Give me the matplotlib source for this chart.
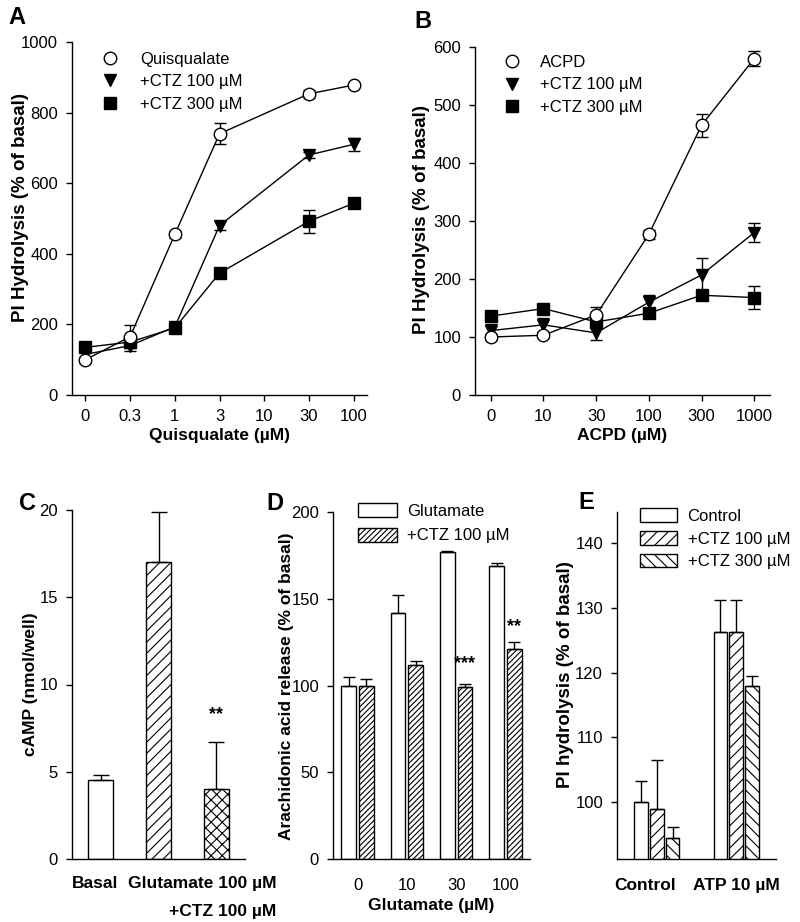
import matplotlib
matplotlib.use("Agg")
import matplotlib.pyplot as plt
import matplotlib.transforms as mtransforms
from matplotlib.lines import Line2D
import numpy as np

plt.rcParams['font.family'] = ['Liberation Sans', 'DejaVu Sans']
plt.rcParams['hatch.linewidth'] = 0.8
plt.rcParams['axes.linewidth'] = 1.0

# ---------------- Panel A data ----------------
a_labels = ["0", "0.3", "1", "3", "10", "30", "100"]
a_pos = [0, 1, 2, 3, 5, 6]          # categories that have data (10 µM has none)
a_quis = [100, 165, 455, 740, 853, 878]
a_quis_err = [8, 33, 10, 30, 12, 5]
a_ctz100 = [115, 140, 193, 480, 680, 710]
a_ctz100_err = [10, 15, 8, 12, 8, 18]
a_ctz300 = [135, 150, 190, 345, 492, 543]
a_ctz300_err = [8, 12, 8, 8, 33, 8]

# ---------------- Panel B data ----------------
b_labels = ["0", "10", "30", "100", "300", "1000"]
b_acpd = [100, 103, 138, 277, 465, 580]
b_acpd_err = [5, 5, 13, 8, 20, 13]
b_ctz100 = [111, 121, 107, 160, 207, 280]
b_ctz100_err = [12, 12, 12, 13, 30, 16]
b_ctz300 = [136, 149, 126, 141, 172, 168]
b_ctz300_err = [5, 6, 5, 6, 5, 20]

# ---------------- Panel C data ----------------
c_vals = [4.5, 17.0, 4.0]
c_errs = [0.33, 2.9, 2.7]

# ---------------- Panel D data ----------------
d_labels = ["0", "10", "30", "100"]
d_glu = [100, 142, 177, 169]
d_glu_err = [5, 10, 0.5, 1.5]
d_ctz = [100, 112, 99, 121]
d_ctz_err = [3.5, 2.3, 2, 4]

# ---------------- Panel E data ----------------
e_groups = ["Control", "ATP 10 \u00b5M"]
e_ctrl = [100, 126.2]
e_ctrl_err = [3.3, 5.0]
e_ctz100 = [98.9, 126.2]
e_ctz100_err = [7.6, 5.0]
e_ctz300 = [94.5, 117.9]
e_ctz300_err = [1.6, 1.6]

W, H = 800, 922
fig = plt.figure(figsize=(W / 100, H / 100), dpi=100)


def add_ax(l, r, t, b):
    return fig.add_axes([l / W, 1 - b / H, (r - l) / W, (b - t) / H])


def style(ax, xticks=True):
    ax.spines['top'].set_visible(False)
    ax.spines['right'].set_visible(False)
    ax.tick_params(direction='out', length=4, width=1, labelsize=12, pad=6)
    if not xticks:
        ax.tick_params(axis='x', length=0)


def ylab(x, y, s, size=13.5):
    fig.text(x / W, 1 - y / H, s, rotation=90, ha='center', va='center',
             fontsize=size, fontweight='bold')


def letter(x, y, s):
    fig.text(x / W, 1 - y / H, s, fontsize=17, fontweight='bold', va='center', ha='left')


MU = "\u00b5"
lab_kw = dict(fontsize=12.5, fontweight='bold')
MS = 9

# ---------------- Panel A ----------------
axA = add_ax(72, 367, 42, 395)
style(axA)
common = dict(color='black', lw=1.0, capsize=4, elinewidth=1, ms=MS, capthick=1)
axA.errorbar(a_pos, a_ctz300, yerr=a_ctz300_err, fmt='-s', mfc='black', mec='black', **common)
axA.errorbar(a_pos, a_ctz100, yerr=a_ctz100_err, fmt='-v', mfc='black', mec='black', **common)
axA.errorbar(a_pos, a_quis, yerr=a_quis_err, fmt='-o', mfc='white', mec='black', **common)
axA.set_xlim(-0.3, 6.3)
axA.set_ylim(0, 1000)
axA.set_xticks(range(len(a_labels)))
axA.set_xticklabels(a_labels)
axA.set_yticks([0, 200, 400, 600, 800, 1000])
axA.set_xlabel(f"Quisqualate ({MU}M)", labelpad=3, **lab_kw)
ylab(21, 207, "PI Hydrolysis (% of basal)")


def marker_handles(first):
    return ([Line2D([], [], marker='o', ls='none', mfc='white', mec='black', ms=MS),
             Line2D([], [], marker='v', ls='none', mfc='black', mec='black', ms=MS),
             Line2D([], [], marker='s', ls='none', mfc='black', mec='black', ms=MS)],
            [first, f'+CTZ 100 {MU}M', f'+CTZ 300 {MU}M'])


hA, lA = marker_handles('Quisqualate')
axA.legend(hA, lA, loc='upper left', bbox_to_anchor=(0.102, 0.973), frameon=False,
           fontsize=12, handlelength=1.0, handletextpad=1.27, labelspacing=0.45,
           borderpad=0, borderaxespad=0)
letter(8, 18, "A")

# ---------------- Panel B ----------------
axB = add_ax(475, 770, 47, 395)
style(axB)
xb = np.arange(len(b_labels))
axB.errorbar(xb, b_ctz300, yerr=b_ctz300_err, fmt='-s', mfc='black', mec='black', **common)
axB.errorbar(xb, b_ctz100, yerr=b_ctz100_err, fmt='-v', mfc='black', mec='black', **common)
axB.errorbar(xb, b_acpd, yerr=b_acpd_err, fmt='-o', mfc='white', mec='black', **common)
axB.set_xlim(-0.3, 5.3)
axB.set_ylim(0, 600)
axB.set_xticks(xb)
axB.set_xticklabels(b_labels)
axB.set_yticks([0, 100, 200, 300, 400, 500, 600])
axB.set_xlabel(f"ACPD ({MU}M)", labelpad=3, **lab_kw)
ylab(421, 219, "PI Hydrolysis (% of basal)")
hB, lB = marker_handles('ACPD')
axB.legend(hB, lB, loc='upper left', bbox_to_anchor=(0.098, 0.978), frameon=False,
           fontsize=12, handlelength=1.0, handletextpad=1.15, labelspacing=0.47,
           borderpad=0, borderaxespad=0)
letter(414, 22, "B")

# ---------------- Panel C ----------------
axC = add_ax(72, 245, 510, 859)
style(axC, xticks=False)
xc = np.arange(3)
hatches = ['', '///', 'xxx']
for i in range(3):
    axC.bar(xc[i], c_vals[i], width=0.43, color='white', edgecolor='black', lw=1.0, hatch=hatches[i],
            yerr=[[0], [c_errs[i]]], error_kw=dict(ecolor='black', elinewidth=1, capsize=6, capthick=1))
axC.set_xlim(-0.5, 2.5)
axC.set_ylim(0, 20)
axC.set_yticks([0, 5, 10, 15, 20])
axC.set_xticks([])
axC.text(2, c_vals[2] + c_errs[2] + 1.1, "**", ha='center', va='bottom', fontsize=13, fontweight='bold')
trC = mtransforms.blended_transform_factory(axC.transData, fig.transFigure)
axC.text(-0.1, 1 - 883 / H, "Basal", transform=trC, ha='center', va='center', **lab_kw)
axC.text(3.05, 1 - 883 / H, f"Glutamate 100 {MU}M", transform=trC, ha='right', va='center', **lab_kw)
axC.text(3.05, 1 - 911 / H, f"+CTZ 100 {MU}M", transform=trC, ha='right', va='center', **lab_kw)
ylab(31, 684, "cAMP (nmol/well)", size=12.5)
letter(19, 503, "C")

# ---------------- Panel D ----------------
axD = add_ax(333, 530, 512, 859)
style(axD, xticks=False)
xd = np.arange(len(d_labels))
bw = 0.3
ekw = dict(ecolor='black', elinewidth=1, capsize=4, capthick=1)
axD.bar(xd - 0.18, d_glu, width=bw, color='white', edgecolor='black', lw=1.0,
        yerr=[np.zeros(4), d_glu_err], error_kw=ekw, label='Glutamate')
axD.bar(xd + 0.18, d_ctz, width=bw, color='white', edgecolor='black', lw=1.0, hatch='//////',
        yerr=[np.zeros(4), d_ctz_err], error_kw=ekw, label=f'+CTZ 100 {MU}M')
axD.set_xlim(-0.5, 3.5)
axD.set_ylim(0, 200)
axD.set_yticks([0, 50, 100, 150, 200])
axD.set_xticks(xd)
axD.set_xticklabels(d_labels)
axD.tick_params(axis='x', pad=14)
axD.text(2 + 0.18, d_ctz[2] + d_ctz_err[2] + 7, "***", ha='center', va='bottom', fontsize=13, fontweight='bold')
axD.text(3 + 0.18, d_ctz[3] + d_ctz_err[3] + 4, "**", ha='center', va='bottom', fontsize=13, fontweight='bold')
axD.set_xlabel(f"Glutamate ({MU}M)", labelpad=3, **lab_kw)
ylab(286, 686, "Arachidonic acid release (% of basal)", size=12.5)
axD.legend(loc='upper left', bbox_to_anchor=(0.127, 1.026), frameon=False, fontsize=12,
           handlelength=2.35, handleheight=0.9, handletextpad=0.6, labelspacing=0.55,
           borderpad=0, borderaxespad=0)
letter(266, 503, "D")

# ---------------- Panel E ----------------
axE = add_ax(617, 776, 512, 859)
style(axE, xticks=False)
xe = np.arange(2)
step = 0.2
bwe = 0.17
axE.bar(xe - step, e_ctrl, width=bwe, color='white', edgecolor='black', lw=1.0,
        yerr=[np.zeros(2), e_ctrl_err], error_kw=ekw, label='Control')
axE.bar(xe, e_ctz100, width=bwe, color='white', edgecolor='black', lw=1.0, hatch='///',
        yerr=[np.zeros(2), e_ctz100_err], error_kw=ekw, label=f'+CTZ 100 {MU}M')
axE.bar(xe + step, e_ctz300, width=bwe, color='white', edgecolor='black', lw=1.0, hatch='\\\\\\',
        yerr=[np.zeros(2), e_ctz300_err], error_kw=ekw, label=f'+CTZ 300 {MU}M')
axE.set_xlim(-0.5, 1.5)
axE.set_ylim(91.2, 144.8)
axE.set_yticks([100, 110, 120, 130, 140])
axE.set_xticks([xe[0] - 0.145, xe[1]])
axE.set_xticklabels(e_groups, fontweight='bold', fontsize=12.5)
axE.tick_params(axis='x', pad=14)
ylab(566, 675, "PI hydrolysis (% of basal)")
axE.legend(loc='upper left', bbox_to_anchor=(0.145, 1.011), frameon=False, fontsize=12,
           handlelength=2.2, handleheight=0.9, handletextpad=0.65, labelspacing=0.42,
           borderpad=0, borderaxespad=0)
letter(578, 502, "E")

fig.savefig("out.png", dpi=100)
